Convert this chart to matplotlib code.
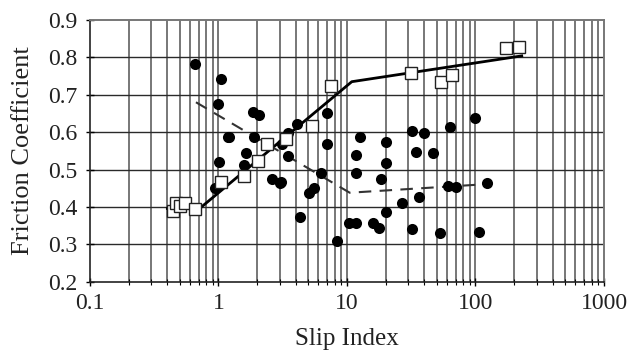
import matplotlib
matplotlib.use("Agg")
import matplotlib.pyplot as plt
import numpy as np

# Filled circles
circle_x = [0.66, 1.05, 0.985, 1.85, 2.08, 1.18, 1.21, 1.89, 1.64, 1.01, 1.58, 2.6, 3.0, 0.94,
            4.05, 3.49, 3.1, 6.95, 6.95, 12.6, 20.1, 31.8, 40, 63.4,
            3.49, 11.7, 34.4, 47, 20.1, 3.05, 6.24, 11.7, 18.4, 5.1, 5.5, 36.3, 26.7, 20.1,
            4.3, 10.4, 11.7, 15.8, 17.8, 32.1, 53, 8.3, 61.5, 70.5, 100, 122, 107]
circle_y = [0.782, 0.741, 0.676, 0.655, 0.646, 0.588, 0.586, 0.586, 0.545, 0.521, 0.512, 0.474, 0.463, 0.451,
            0.622, 0.597, 0.568, 0.65, 0.568, 0.588, 0.574, 0.604, 0.599, 0.613,
            0.536, 0.539, 0.546, 0.543, 0.517, 0.466, 0.490, 0.490, 0.474, 0.438, 0.450, 0.426, 0.410, 0.387,
            0.374, 0.358, 0.356, 0.356, 0.343, 0.340, 0.331, 0.309, 0.456, 0.454, 0.637, 0.463, 0.334]

# Open squares
square_x = [0.44, 0.47, 0.50, 0.553, 0.653, 1.05, 1.59, 2.04, 2.4, 3.35, 5.3, 7.5, 31.5, 53.6, 66, 172, 218]
square_y = [0.390, 0.410, 0.402, 0.410, 0.394, 0.467, 0.483, 0.524, 0.568, 0.581, 0.616, 0.723, 0.757, 0.735, 0.753, 0.824, 0.827]

# Solid trend line
solid_x = [0.40, 0.72, 10.9, 229]
solid_y = [0.396, 0.397, 0.735, 0.804]

# Dashed trend line
dashed_x = [0.668, 10.5, 110]
dashed_y = [0.680, 0.438, 0.460]

x_ticks = [0.1, 1, 10, 100, 1000]
x_tick_labels = ['0.1', '1', '10', '100', '1000']
y_ticks = [0.2, 0.3, 0.4, 0.5, 0.6, 0.7, 0.8, 0.9]
y_tick_labels = ['0.2', '0.3', '0.4', '0.5', '0.6', '0.7', '0.8', '0.9']

plt.rcParams['font.family'] = ['Liberation Serif', 'DejaVu Serif']

fig = plt.figure(figsize=(6.27, 3.56), dpi=100)
ax = fig.add_axes([0.1435, 0.2087, 0.8198, 0.7351])

ax.set_xscale('log')
ax.set_xlim(0.1, 1000)
ax.set_ylim(0.2, 0.9)

# grid
for dec in [0.1, 1, 10, 100]:
    for m in range(1, 10):
        xv = dec * m
        if xv <= 0.1:
            continue
        ax.axvline(xv, color='#777777', lw=1.4, zorder=0)
for yv in y_ticks[1:-1]:
    ax.axhline(yv, color='#2a2a2a', lw=1.0, zorder=0)

ax.plot(solid_x, solid_y, color='black', lw=2.0, zorder=2)
ax.plot(dashed_x, dashed_y, color='#333333', lw=1.5, dashes=(6, 4), zorder=2)
ax.plot(circle_x, circle_y, 'o', color='black', ms=8, zorder=3, markeredgewidth=0)
ax.plot(square_x, square_y, 's', mfc='white', mec='#222222', ms=8, mew=1.0, zorder=4)

ax.set_xticks(x_ticks)
ax.set_xticklabels(x_tick_labels)
ax.set_yticks(y_ticks)
ax.set_yticklabels(y_tick_labels)
ax.tick_params(axis='both', which='major', direction='inout', length=6, width=1, labelsize=17,
               colors='black', labelcolor='#222222')
ax.tick_params(axis='x', which='minor', direction='inout', length=4, width=0.8)
ax.tick_params(axis='x', which='major', pad=5)
ax.tick_params(axis='y', which='major', pad=6)

for s in ['left', 'bottom']:
    ax.spines[s].set_color('#222222')
    ax.spines[s].set_linewidth(1.2)
for s in ['top', 'right']:
    ax.spines[s].set_color('#777777')
    ax.spines[s].set_linewidth(1.4)

ax.set_xlabel('Slip Index', fontsize=18, labelpad=10, color='#222222')
ax.set_ylabel('Friction Coefficient', fontsize=19, labelpad=10, color='#222222')

fig.savefig('out.png', dpi=100)
